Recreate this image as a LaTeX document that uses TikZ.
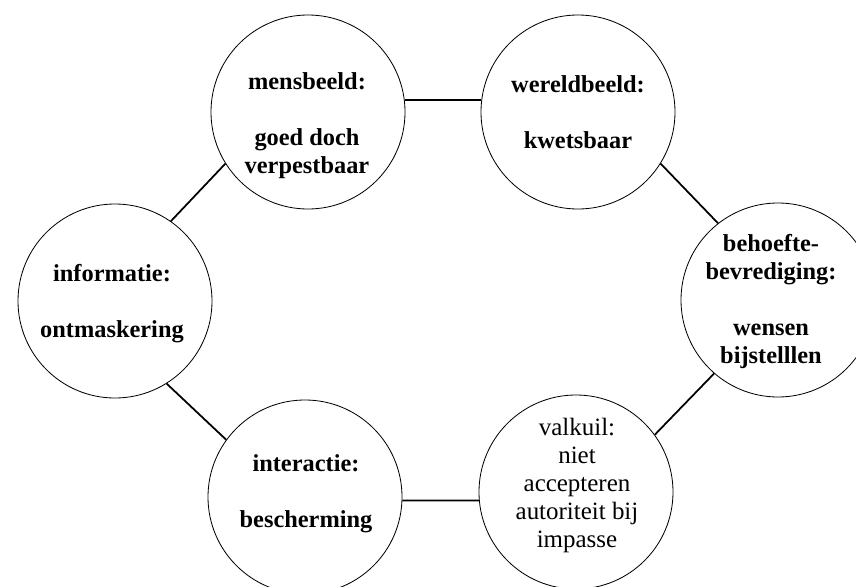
\documentclass[tikz,border=0pt]{standalone}
\usepackage{fontspec}
\setmainfont{Liberation Serif}
\usepackage{tikz}
\usetikzlibrary{positioning}

\begin{document}
\begin{tikzpicture}[x=0.03cm, y=-0.03cm,
    bol/.style={shape=circle, draw=black, line width=0.7pt, minimum size=5.82cm, inner sep=0pt},
    tekst/.style={align=center, inner sep=0pt, font=\fontsize{20.8pt}{23.9pt}\selectfont\bfseries},
    lijn/.style={line width=1.5pt}]
        \useasboundingbox (0,0) rectangle (856,587);

        % circles
        \node (mens) at (308,112) [bol] {};
        \node (wereld) at (578,112) [bol] {};
        \node (behoefte) at (778,300) [bol] {};
        \node (valk) at (576,492) [bol] {};
        \node (inter) at (305,497) [bol] {};
        \node (info) at (115,301) [bol] {};

        % texts
        \node (t-mens) at (307,126) [tekst] {mensbeeld:\\[23.9pt] goed doch\\ verpestbaar};
        \node (t-wereld) at (578,112) [tekst] {wereldbeeld:\\[23.9pt] kwetsbaar};
        \node (t-behoefte) at (771,302) [tekst] {behoefte-\\ bevrediging:\\[23.9pt] wensen\\ bijstelllen};
        \node (t-valk) at (577,485) [tekst, font=\fontsize{21.3pt}{23.9pt}\selectfont] {valkuil:\\ niet\\ accepteren\\ autoriteit bij\\ impasse};
        \node (t-inter) at (306,494) [tekst] {interactie:\\[23.9pt] bescherming};
        \node (t-info) at (112,304) [tekst] {informatie:\\[23.9pt] ontmaskering};

        % connections
        \draw[lijn] (mens.7) -- (wereld.173);
        \draw[lijn] (wereld.-32) -- (behoefte.128);
        \draw[lijn] (behoefte.229) -- (valk.36);
        \draw[lijn] (inter.-2) -- (valk.185);
        \draw[lijn] (info.-58) -- (inter.144);
        \draw[lijn] (info.55) -- (mens.212);
\end{tikzpicture}
\end{document}
